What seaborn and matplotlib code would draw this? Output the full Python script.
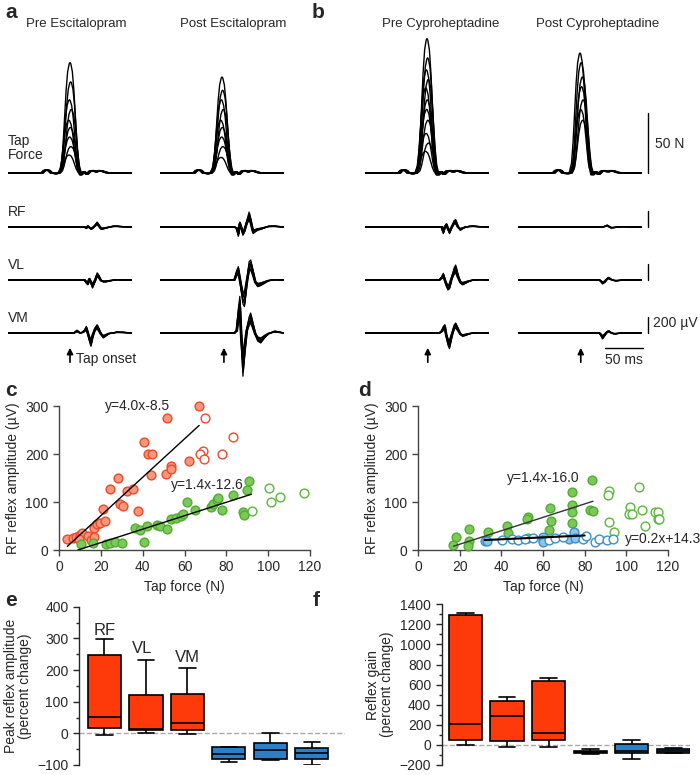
import matplotlib
import numpy as np
import pandas as pd
import seaborn as sns

matplotlib.use("Agg")
import matplotlib.pyplot as plt  # noqa: E402
from matplotlib.ticker import MultipleLocator  # noqa: E402

FIG_W, FIG_H = 700, 775

# ---- panels a, b: tap force and EMG sweeps ----
FORCE_T = [0, 44, 47, 50, 53, 56, 62, 66, 69, 71, 73, 75, 77, 79, 80, 81, 83, 85, 87, 89, 91,
           94, 98, 102, 106, 110, 114, 118, 122, 126, 132, 160]
FORCE_SHAPE = [0, 0, 0, 0, 0, 0, 0, 0, 0.08, 0.25, 0.5, 0.75, 0.92, 0.99, 1.0, 0.99, 0.92, 0.75, 0.5,
               0.25, 0.08, 0, 0, 0, 0, 0, 0, 0, 0, 0, 0, 0]
FORCE_BASE = [0, 0, 2, 2.5, 2, 0, -0.5, 0, 0, 0, 0, 0, 0, 0, 0, 0, 0, 0, 0, 0, 0,
              -1.5, 1, -1, 1.5, 2, 1, 2, 1.5, 0.5, 0, 0]

ESC_PRE_PEAKS = [92, 76, 61, 53, 44, 38, 30, 22, 15]
ESC_POST_PEAKS = [80, 69, 61, 53, 44, 38, 30, 22, 13]
CYP_PRE_PEAKS = [112, 96, 86, 78, 71, 61, 53, 44, 33, 25, 18]
CYP_POST_PEAKS = [100, 92, 80, 72, 61, 53, 44]
FORCE_JITTER = [0, 0.8, -0.8, 1.6, -1.6, 0.4, -0.4, 1.2, -1.2, 2.0, -2.0]
CYP_POST_JITTER = [0, 1.5, 3.0, 2.0, 4.0, 1.0, 3.5]

EMG_T = [0, 85, 89, 93, 96, 99, 101, 103, 105, 107, 109, 112, 115, 117, 120, 123, 126, 130, 135, 140, 148, 160]
ESC_PRE_RF = [0, 0, 0, 0, 0, 0, -20, 15, -10, -30, -20, 20, 62, 30, -30, -25, -15, -5, 10, 12, 5, 0]
ESC_PRE_VL = [0, 0, 0, 0, 0, 0, -40, -60, 20, -40, -100, -20, 90, 60, -10, -25, -25, -15, -5, 5, 0, 0]
ESC_PRE_VM = [0, 0, 35, 0, 10, 40, 83, 0, -100, -167, -60, 60, 104, 60, -20, -62, -40, -10, 0, 12, 10, 0]
ESC_POST_RF = [0, 0, 0, 0, 0, -20, -117, 62, -20, -104, -60, 80, 187, 100, -83, -60, -40, -30, -10, 10, 12, 0]
ESC_POST_VL = [0, 0, 0, 0, 0, 120, 167, 20, -150, -300, -333, -40, 230, 250, 120, -40, -83, -70, -40, -10, 5, 0]
ESC_POST_VM = [0, 0, 0, 0, 0, 40, 300, 458, -100, -540, -300, 50, 200, 250, 120, -20, -100, -125, -60, -10, 25, 0]
CYP_PRE_RF = [0, 0, 0, 0, 0, 0, -83, 0, 42, -30, -83, 0, 80, 92, 0, -42, -20, 0, 10, 12, 5, 0]
CYP_PRE_VL = [0, 0, 0, 0, 0, 40, 83, 0, -80, -125, -110, 40, 150, 187, 60, -40, -62, -40, -15, 0, 5, 0]
CYP_PRE_VM = [0, 0, 0, 0, 0, 30, 80, 104, -50, -150, -196, -40, 100, 125, 60, -20, -42, -30, -10, 0, 5, 0]
CYP_POST_RF = [0, 0, 0, 0, 0, 0, 0, 0, 0, 0, 0, 10, 25, 10, -12, -10, -5, 0, 5, 3, 0, 0]
CYP_POST_VL = [0, 0, 0, 0, 0, 0, 0, 0, 0, -20, -50, -30, 20, 33, 10, -5, -12, -8, 0, 0, 0, 0]
CYP_POST_VM = [0, 0, 0, 0, 0, 0, 0, 0, 0, -30, -75, -30, 20, 29, 5, -10, -12, -5, 0, 0, 0, 0]
EMG_GAINS = [1.0, 0.9, 0.8, 0.7, 0.6, 0.5]
EMG_JITTER = [0, 0.5, -0.5, 1.0, -1.0, 0.3]

TRACE_TITLES = ["Pre Escitalopram", "Post Escitalopram", "Pre Cyproheptadine", "Post Cyproheptadine"]
TAP_ONSET_MS = [80, 82.5, 81, 81]

# ---- panels c, d: reflex amplitude vs tap force ----
C_RED_FILLED_X = [4.0, 6.8, 8.1, 10.0, 10.8, 9.7, 14.0, 15.5, 16.7, 16.7, 18.0, 19.6, 22.0, 21.2, 24.4, 28.4,
                  29.2, 30.8, 32.6, 35.5, 37.9, 40.8, 42.4, 44.5, 44.0, 51.8, 51.2, 53.4, 53.4, 62.3, 67.1]
C_RED_FILLED_Y = [22, 26, 28, 31, 35, 22, 30, 20, 28, 45, 55, 57, 60, 85, 128, 150,
                  96, 92, 123, 128, 81, 224, 201, 200, 156, 274, 158, 175, 169, 185, 300]
C_RED_OPEN_X = [70.0, 83.3, 69.0, 67.3, 69.5, 78.0]
C_RED_OPEN_Y = [274, 236, 207, 201, 189, 201]
C_GREEN_FILLED_X = [10.5, 16.4, 22.5, 24.4, 26.8, 30.0, 36.3, 38.7, 40.8, 42.2, 47.0, 48.3, 51.5, 53.4, 56.0,
                    58.2, 59.4, 61.0, 65.0, 72.7, 73.8, 75.4, 76.2, 77.8, 83.3, 88.1, 88.6, 90.0, 91.0]
C_GREEN_FILLED_Y = [12, 14, 12.5, 15, 17, 14, 45, 42, 17, 50, 52, 50, 43, 64, 66,
                    71, 76, 100, 83, 90, 96, 104, 108, 83, 115, 80, 73, 124, 144]
C_GREEN_OPEN_X = [92.4, 100.5, 101.2, 105.6, 117.0]
C_GREEN_OPEN_Y = [81, 130, 99, 110, 118]

D_GREEN_FILLED_X = [17.0, 18.2, 24.5, 24.5, 24.2, 33.8, 42.9, 43.4, 52.7, 52.2, 53.0, 63.4, 63.7, 62.9,
                    73.8, 73.8, 73.8, 73.8, 83.5, 82.6, 83.9]
D_GREEN_FILLED_Y = [10, 28, 43, 19, 8, 37, 50, 36, 68, 64, 26, 87, 61, 42, 120, 94, 80, 57, 146, 83, 82]
D_GREEN_OPEN_X = [91.8, 91.4, 91.8, 94.2, 101.8, 101.4, 102.6, 106.2, 107.7, 109.0, 113.8, 115.0, 115.0, 115.8]
D_GREEN_OPEN_Y = [122, 115, 58, 37, 90, 76, 76, 132, 83, 49, 80, 80, 64, 64]
D_BLUE_FILLED_X = [32.2, 33.3, 59.8, 59.8, 59.8, 72.6, 75.1, 75.4]
D_BLUE_FILLED_Y = [18, 19, 27, 21, 17, 23, 38, 26]
D_BLUE_OPEN_X = [40.1, 44.9, 48.1, 51.3, 55.4, 63.0, 65.8, 69.8, 79.1, 80.7, 85.0, 87.1, 90.6, 93.4]
D_BLUE_OPEN_Y = [21, 23, 21, 23, 26, 21, 24, 27, 23, 30, 16, 22, 21, 22]

# slope, intercept, x start, x end
C_FITS = [(4.0, -8.5, 4, 67), (1.4, -12.6, 9, 92)]
D_FITS = [(1.4, -16.0, 17, 84), (0.2, 14.3, 32, 80)]

# ---- panels e, f: box summaries (min, q1, median, q3, max) ----
BOX_GROUPS = ["Esc RF", "Esc VL", "Esc VM", "Cyp RF", "Cyp VL", "Cyp VM"]
E_ESC_RF = [-5, 16, 52, 249, 297]
E_ESC_VL = [2, 10, 13, 121, 231]
E_ESC_VM = [-3, 10, 32, 123, 205]
E_CYP_RF = [-92, -82, -66, -44, -42]
E_CYP_VL = [-84, -81, -53, -32, 0]
E_CYP_VM = [-100, -82, -63, -45, -26]
F_ESC_RF = [0, 49, 205, 1294, 1311]
F_ESC_VL = [-18, 42, 288, 440, 480]
F_ESC_VM = [-24, 49, 115, 636, 663]
F_CYP_RF = [-91, -84, -74, -61, -44]
F_CYP_VL = [-140, -77, -60, 6, 49]
F_CYP_VM = [-84, -77, -58, -44, -34]

RED = "#FF3A0A"
BLUE = "#2A7FC9"


def px_axes(fig, left, top, right, bottom):
    return fig.add_axes([left / FIG_W, 1 - bottom / FIG_H, (right - left) / FIG_W, (bottom - top) / FIG_H])


def fig_text(fig, x, y, s, **kw):
    fig.text(x / FIG_W, 1 - y / FIG_H, s, **kw)


def sweeps(t, shape, scales, shifts, base=None):
    rows = []
    for i, k in enumerate(scales):
        v = np.asarray(shape, float) * k
        if base is not None:
            v = v + np.asarray(base, float)
        rows.append(pd.DataFrame({"t": np.asarray(t, float) + shifts[i % len(shifts)], "v": v, "sweep": i}))
    return pd.concat(rows, ignore_index=True)


def draw_traces(fig):
    lefts = [8, 160, 365, 518]
    force_sets = [(ESC_PRE_PEAKS, FORCE_JITTER), (ESC_POST_PEAKS, FORCE_JITTER),
                  (CYP_PRE_PEAKS, FORCE_JITTER), (CYP_POST_PEAKS, CYP_POST_JITTER)]
    emg_sets = [(ESC_PRE_RF, ESC_PRE_VL, ESC_PRE_VM), (ESC_POST_RF, ESC_POST_VL, ESC_POST_VM),
                (CYP_PRE_RF, CYP_PRE_VL, CYP_PRE_VM), (CYP_POST_RF, CYP_POST_VL, CYP_POST_VM)]
    centers = [76, 233, 441, 598]
    for col, left in enumerate(lefts):
        fax = px_axes(fig, left, 20, left + 124, 190)
        fax.set_xlim(0, 160)
        fax.set_ylim(-17 / 1.2, 153 / 1.2)
        fax.axis("off")
        peaks, jit = force_sets[col]
        sns.lineplot(data=sweeps(FORCE_T, FORCE_SHAPE, peaks, jit, FORCE_BASE), x="t", y="v",
                     units="sweep", estimator=None, sort=False, color="black", lw=1.0, ax=fax)
        fig_text(fig, centers[col], 24, TRACE_TITLES[col], ha="center", va="center", fontsize=9.5)

        emg_axes = []
        for ch, baseline in enumerate([227, 280, 333]):
            eax = px_axes(fig, left, baseline - 60, left + 124, baseline + 60)
            eax.set_xlim(0, 160)
            eax.set_ylim(-750, 750)
            eax.axis("off")
            eax.patch.set_alpha(0)
            sns.lineplot(data=sweeps(EMG_T, emg_sets[col][ch], EMG_GAINS, EMG_JITTER), x="t", y="v",
                         units="sweep", estimator=None, sort=False, color="black", lw=0.9, ax=eax)
            emg_axes.append(eax)

        vm_ax = emg_axes[2]
        vm_ax.annotate("", xy=(TAP_ONSET_MS[col], -150), xytext=(TAP_ONSET_MS[col], -400),
                       arrowprops=dict(arrowstyle="-|>", color="black", lw=1.2, mutation_scale=9),
                       annotation_clip=False)

        if col == 0:
            fax.text(0, 9, "Tap\nForce", ha="left", va="bottom", fontsize=10, linespacing=1.0)
            for eax, name in zip(emg_axes, ["RF", "VL", "VM"]):
                eax.text(0, 190, name, ha="left", va="center", fontsize=10)
            vm_ax.text(87.7, -330, "Tap onset", ha="left", va="center", fontsize=10)
        if col == 3:
            fax.plot([167.7, 167.7], [0, 50], color="black", lw=1, clip_on=False)
            fax.text(176.8, 24, "50 N", ha="left", va="center", fontsize=10)
            for eax in emg_axes:
                eax.plot([167.7, 167.7], [0, 200], color="black", lw=1, clip_on=False)
            vm_ax.text(173.8, 125, "200 \u00b5V", ha="left", va="center", fontsize=10)
            vm_ax.plot([111.7, 161.7], [-187, -187], color="black", lw=1, clip_on=False)
            vm_ax.text(137, -340, "50 ms", ha="center", va="center", fontsize=10)


def style_scatter_axes(ax):
    sns.despine(ax=ax)
    ax.set_xlim(0, 120)
    ax.set_ylim(0, 300)
    ax.xaxis.set_major_locator(MultipleLocator(20))
    ax.yaxis.set_major_locator(MultipleLocator(100))
    ax.tick_params(direction="out", length=4, width=1, color="#444444", labelsize=10)
    for side in ["left", "bottom"]:
        ax.spines[side].set_color("#444444")
        ax.spines[side].set_linewidth(1)
    ax.set_xlabel("Tap force (N)", fontsize=10)
    ax.set_ylabel("RF reflex amplitude (\u00b5V)", fontsize=10)


def points(ax, xs, ys, face, edge):
    sns.scatterplot(x=xs, y=ys, color=face, edgecolor=edge, linewidth=1, s=40, ax=ax,
                    clip_on=False, zorder=3)


def fit_lines(ax, fits, colors, widths):
    for (slope, icpt, x0, x1), c, w in zip(fits, colors, widths):
        xs = [x0, x1]
        sns.lineplot(x=xs, y=[slope * x + icpt for x in xs], color=c, lw=w, ax=ax, zorder=4)


def draw_scatter(fig):
    ax_c = px_axes(fig, 59, 406, 310, 550)
    points(ax_c, C_RED_FILLED_X, C_RED_FILLED_Y, "#F7977C", "#EE4A2A")
    points(ax_c, C_RED_OPEN_X, C_RED_OPEN_Y, "white", "#EE4A2A")
    points(ax_c, C_GREEN_FILLED_X, C_GREEN_FILLED_Y, "#7CC85A", "#4FAE2E")
    points(ax_c, C_GREEN_OPEN_X, C_GREEN_OPEN_Y, "white", "#5AB83A")
    fit_lines(ax_c, C_FITS, ["black", "black"], [1.0, 1.0])
    ax_c.text(37.3, 300, "y=4.0x-8.5", ha="center", va="center", fontsize=10)
    ax_c.text(70.7, 135, "y=1.4x-12.6", ha="center", va="center", fontsize=10)
    style_scatter_axes(ax_c)

    ax_d = px_axes(fig, 418, 406, 668, 550)
    points(ax_d, D_GREEN_FILLED_X, D_GREEN_FILLED_Y, "#7CC85A", "#4FAE2E")
    points(ax_d, D_GREEN_OPEN_X, D_GREEN_OPEN_Y, "white", "#5AB83A")
    points(ax_d, D_BLUE_FILLED_X, D_BLUE_FILLED_Y, "#8CC4EC", "#3A8ED0")
    points(ax_d, D_BLUE_OPEN_X, D_BLUE_OPEN_Y, "white", "#3A8ED0")
    fit_lines(ax_d, D_FITS, ["#333333", "black"], [1.0, 1.5])
    ax_d.text(60, 150, "y=1.4x-16.0", ha="center", va="center", fontsize=10)
    ax_d.text(99.4, 23, "y=0.2x+14.3", ha="left", va="center", fontsize=10)
    style_scatter_axes(ax_d)


def draw_boxes(ax, values, ylim, major, minor, ylabel):
    frame = pd.DataFrame({
        "group": np.repeat(BOX_GROUPS, 5),
        "value": np.concatenate(values),
    })
    sns.boxplot(data=frame, x="group", y="value", hue="group", order=BOX_GROUPS, hue_order=BOX_GROUPS,
                palette=[RED] * 3 + [BLUE] * 3, legend=False, whis=(0, 100), width=0.8,
                linecolor="black", linewidth=1.2, saturation=1, ax=ax)
    ax.axhline(0, color="#AAAAAA", ls="--", lw=1, zorder=0)
    ax.set_ylim(*ylim)
    ax.yaxis.set_major_locator(MultipleLocator(major))
    ax.yaxis.set_minor_locator(MultipleLocator(minor))
    ax.tick_params(axis="y", which="major", direction="out", length=4, width=1, labelsize=10)
    ax.tick_params(axis="y", which="minor", direction="out", length=2.5, width=1)
    ax.set_xticks([])
    ax.set_xlabel("")
    ax.set_ylabel(ylabel, fontsize=10, linespacing=1.0)
    sns.despine(ax=ax, bottom=True)
    ax.spines["left"].set_linewidth(1)


def main():
    sns.set_style("ticks")
    plt.rcParams["font.family"] = ["Liberation Sans", "DejaVu Sans"]
    fig = plt.figure(figsize=(FIG_W / 100, FIG_H / 100), dpi=100)

    draw_traces(fig)
    draw_scatter(fig)

    ax_e = px_axes(fig, 79, 606.7, 345, 765)
    draw_boxes(ax_e, [E_ESC_RF, E_ESC_VL, E_ESC_VM, E_CYP_RF, E_CYP_VL, E_CYP_VM],
               (-100, 400), 100, 50, "Peak reflex amplitude\n(percent change)")
    ax_e.set_xlim(-0.614, 5.8)
    ax_e.text(0, 326, "RF", ha="center", va="center", fontsize=12)
    ax_e.text(0.9, 269, "VL", ha="center", va="center", fontsize=12)
    ax_e.text(2, 241, "VM", ha="center", va="center", fontsize=12)

    ax_f = px_axes(fig, 441.7, 604.3, 690, 765)
    draw_boxes(ax_f, [F_ESC_RF, F_ESC_VL, F_ESC_VM, F_CYP_RF, F_CYP_VL, F_CYP_VM],
               (-200, 1400), 200, 100, "Reflex gain\n(percent change)")
    ax_f.set_xlim(-0.573, 5.4)

    for letter, x, y in [("a", 5, 12), ("b", 312, 12), ("c", 5, 391), ("d", 358, 391),
                         ("e", 5, 601), ("f", 313, 601)]:
        fig_text(fig, x, y, letter, ha="left", va="center", fontsize=15, fontweight="bold")

    fig.savefig("out.png", dpi=100)
    plt.close(fig)


if __name__ == "__main__":
    main()
